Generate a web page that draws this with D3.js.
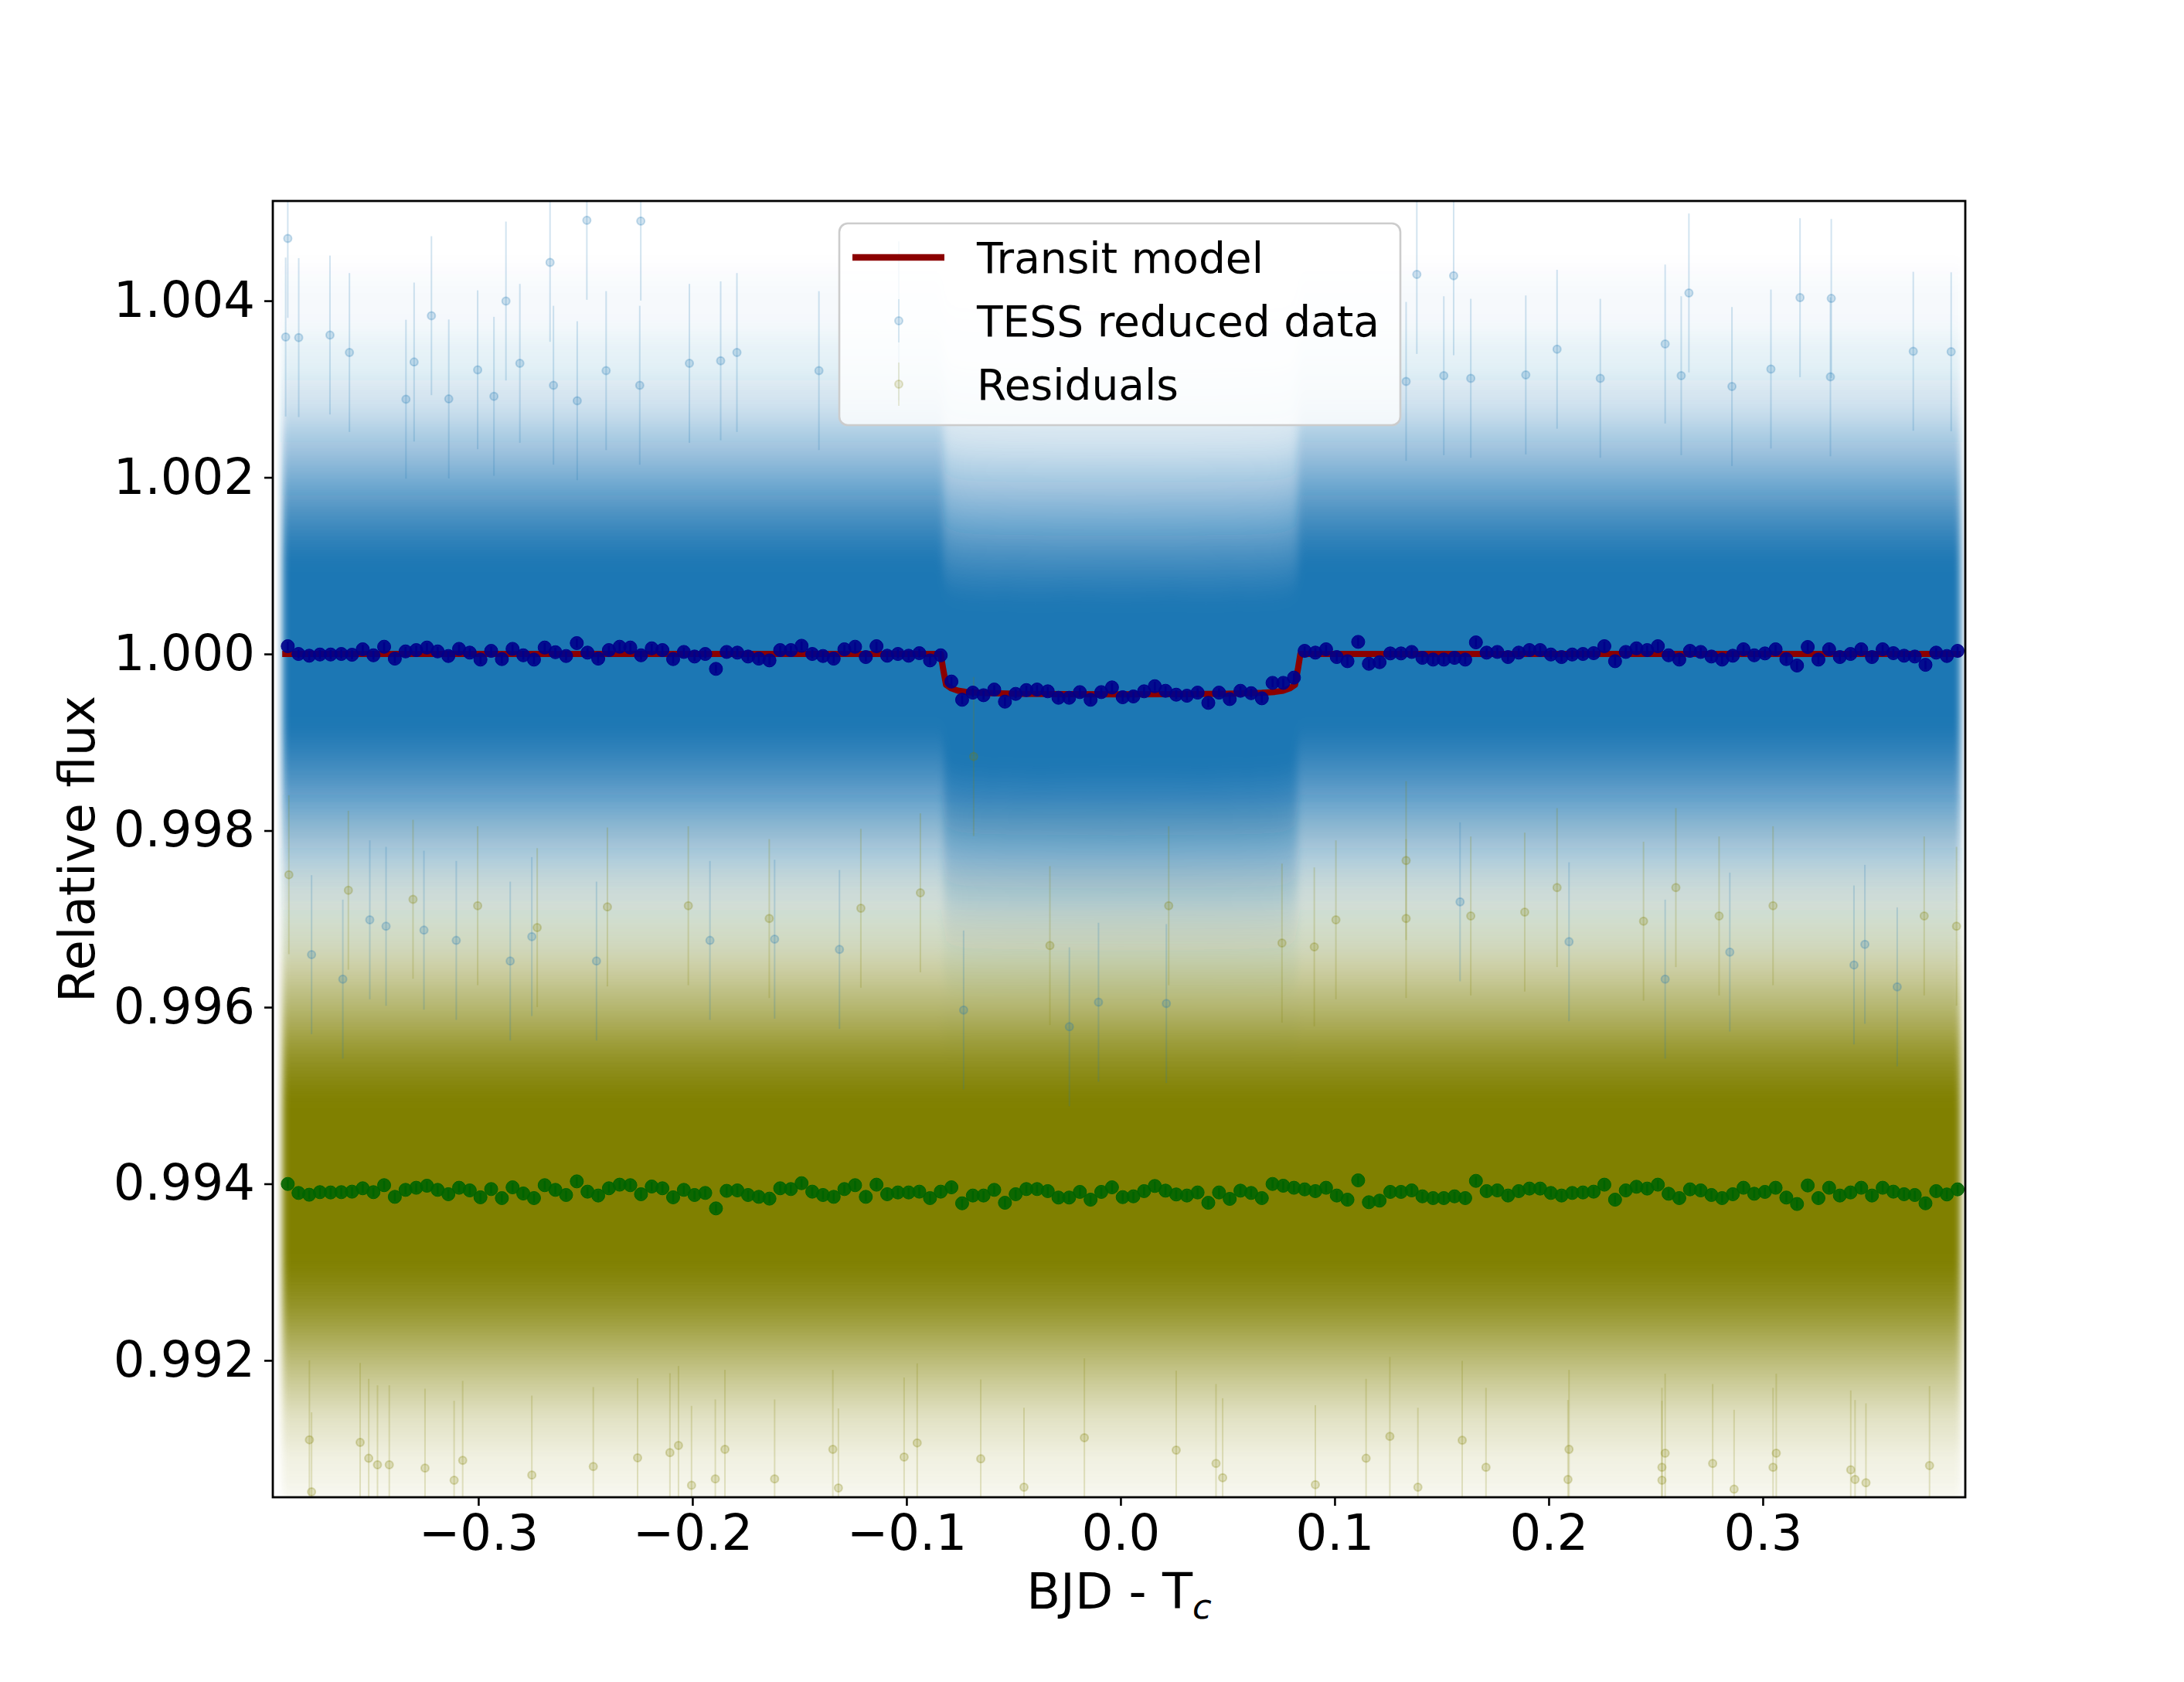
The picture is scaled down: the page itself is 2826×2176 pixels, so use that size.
<!DOCTYPE html>
<html>
<head>
<meta charset="utf-8">
<script src="https://cdn.jsdelivr.net/npm/d3@7"></script>
<style>
  body { margin: 0; background: #fff; }
  text { font-family: "DejaVu Sans", sans-serif; }
</style>
</head>
<body>
<div id="chart"></div>
<script>
// binned light curve (0.005 d bins)
const binStart = -0.389;
const binStep = 0.005;
const binnedFlux = [
  1.000088, 1.000000, 0.999980, 0.999994, 0.999994, 1.000000, 0.999991, 1.000053, 0.999985, 1.000082,
  0.999947, 1.000029, 1.000044, 1.000073, 1.000029, 0.999977, 1.000058, 1.000015, 0.999936, 1.000035,
  0.999942, 1.000058, 0.999985, 0.999936, 1.000073, 1.000020, 0.999977, 1.000123, 1.000015, 0.999947,
  1.000044, 1.000082, 1.000073, 0.999985, 1.000064, 1.000044, 0.999942, 1.000023, 0.999971, 1.000000,
  0.999831, 1.000023, 1.000015, 0.999971, 0.999947, 0.999927, 1.000044, 1.000044, 1.000093, 1.000000,
  0.999977, 0.999947, 1.000053,
  1.000082, 0.999965, 1.000088, 0.999980, 1.000000, 0.999980, 1.000009, 0.999927, 0.999985, 0.999688,
  0.999481, 0.999562, 0.999533, 0.999597, 0.999460, 0.999548, 0.999591, 0.999597, 0.999577, 0.999504,
  0.999504, 0.999568, 0.999481, 0.999568, 0.999621, 0.999510, 0.999519, 0.999577, 0.999635, 0.999583,
  0.999539, 0.999527, 0.999562, 0.999446, 0.999562, 0.999489, 0.999583, 0.999556, 0.999498, 0.999673,
  0.999673, 0.999732, 1.000035, 1.000015, 1.000053, 0.999965, 0.999918, 1.000137, 0.999889, 0.999907,
  1.000006, 1.000006, 1.000023, 0.999956,
  0.999936, 0.999936, 0.999956, 0.999936, 1.000131, 1.000015, 1.000023, 0.999965, 1.000015, 1.000044,
  1.000044, 0.999994, 0.999965, 0.999994, 1.000000, 1.000009, 1.000088, 0.999918, 1.000023, 1.000064,
  1.000044, 1.000088, 0.999985, 0.999936, 1.000035, 1.000023, 0.999971, 0.999936, 0.999980, 1.000053,
  0.999985, 1.000006, 1.000053, 0.999942, 0.999869, 1.000079, 0.999936, 1.000053, 0.999965, 1.000000,
  1.000053, 0.999965, 1.000053, 1.000009, 0.999980, 0.999971, 0.999877, 1.000015, 0.999977, 1.000035
];
const binnedResid = [
  0.993998, 0.993896, 0.993876, 0.993905, 0.993902, 0.993905, 0.993911, 0.993949, 0.993905, 0.993984,
  0.993852, 0.993931, 0.993955, 0.993978, 0.993931, 0.993882, 0.993955, 0.993925, 0.993847, 0.993940,
  0.993838, 0.993960, 0.993890, 0.993838, 0.993984, 0.993931, 0.993873, 0.994027, 0.993911, 0.993867,
  0.993949, 0.993990, 0.993984, 0.993882, 0.993969, 0.993949, 0.993847, 0.993931, 0.993873, 0.993896,
  0.993721, 0.993920, 0.993925, 0.993873, 0.993852, 0.993832, 0.993949, 0.993940, 0.994007, 0.993911,
  0.993873, 0.993852, 0.993940, 0.993984, 0.993852, 0.993990, 0.993882, 0.993902, 0.993902, 0.993911,
  0.993838, 0.993911, 0.993960, 0.993779, 0.993867, 0.993867, 0.993931, 0.993785, 0.993882, 0.993940,
  0.993940,
  0.993917, 0.993844, 0.993844, 0.993908, 0.993820, 0.993908, 0.993960, 0.993849, 0.993858, 0.993917,
  0.993975, 0.993922, 0.993879, 0.993867, 0.993902, 0.993785, 0.993902, 0.993829, 0.993922, 0.993896,
  0.993838, 0.993998, 0.993978, 0.993955, 0.993937, 0.993917, 0.993955, 0.993867, 0.993820, 0.994039,
  0.993791, 0.993809, 0.993908, 0.993908, 0.993925, 0.993858,
  0.993838, 0.993838, 0.993858, 0.993838, 0.994033, 0.993917, 0.993925, 0.993867, 0.993917, 0.993946,
  0.993946, 0.993896, 0.993867, 0.993896, 0.993902, 0.993911, 0.993990, 0.993820, 0.993925, 0.993966,
  0.993946, 0.993990, 0.993887, 0.993838, 0.993937, 0.993925, 0.993873, 0.993838, 0.993882, 0.993955,
  0.993887, 0.993908, 0.993955, 0.993844, 0.993771, 0.993981, 0.993838, 0.993955, 0.993867, 0.993902,
  0.993955, 0.993867, 0.993955, 0.993911, 0.993882, 0.993873, 0.993779, 0.993917, 0.993879, 0.993937
];
const binErr = 0.00005;

// transit model
const modelTime = [-0.3916, -0.0840, -0.0828, -0.0815, -0.0790, -0.0760, -0.0720, -0.0660, -0.0500, -0.0250, 0,
  0.0250, 0.0500, 0.0660, 0.0720, 0.0760, 0.0790, 0.0815, 0.0828, 0.0840, 0.3925];
const modelFlux = [1, 1, 0.99982, 0.99965, 0.99961, 0.999585, 0.99957, 0.99956, 0.99955, 0.999545, 0.999543,
  0.999545, 0.99955, 0.99956, 0.99957, 0.999585, 0.99961, 0.99965, 0.99982, 1, 1];

// spread of the unbinned points about the model / residual level
const residLevel = 0.99393;
const spreadUp = [0.0012, 0.0015, 0.0018, 0.0021, 0.0024, 0.0027, 0.0031, 0.0036, 0.0043];
const spreadDown = [0.0010, 0.0013, 0.0016, 0.0019, 0.0022, 0.0025, 0.0029, 0.0034, 0.0041];
const spreadAlpha = [1, 0.9, 0.78, 0.62, 0.47, 0.33, 0.2, 0.1, 0.035];

// individual points that stand out of the cloud
const tessSparse = [
  [-0.3890, 1.004706], [-0.2665, 1.004435], [-0.2493, 1.004911], [-0.2241, 1.004902], [-0.2871, 1.003997],
  [-0.3219, 1.003831], [-0.3900, 1.003589], [-0.3839, 1.003583], [-0.3693, 1.003612], [-0.3602, 1.003414],
  [-0.3300, 1.003306], [-0.3003, 1.003218], [-0.2806, 1.003291], [-0.2403, 1.003209], [-0.2014, 1.003291],
  [-0.1868, 1.003320], [-0.1792, 1.003414], [-0.1409, 1.003209], [-0.1036, 1.003773], [0.1384, 1.004298],
  [0.1556, 1.004283], [0.2655, 1.004088], [0.3174, 1.004035], [0.3320, 1.004026], [0.2544, 1.003510],
  [0.2039, 1.003451], [0.3703, 1.003428], [0.3880, 1.003422], [0.2619, 1.003151], [0.3038, 1.003227],
  [0.3316, 1.003139], [0.1893, 1.003160], [0.1510, 1.003151], [0.1636, 1.003122], [0.1334, 1.003087],
  [0.2856, 1.003029], [0.2241, 1.003122], [-0.2649, 1.003043], [-0.2246, 1.003043], [-0.3138, 1.002888],
  [-0.3338, 1.002885], [-0.2927, 1.002918], [-0.2538, 1.002868],
  [-0.3633, 0.996318], [-0.3779, 0.996595], [-0.2851, 0.996522], [-0.2448, 0.996522], [-0.1918, 0.996756],
  [-0.1616, 0.996770], [-0.1313, 0.996654], [-0.0733, 0.995968], [-0.0103, 0.996056], [0.0214, 0.996041],
  [-0.0239, 0.995778], [0.1586, 0.997193], [0.2095, 0.996741], [0.2544, 0.996318], [0.3426, 0.996478],
  [0.3628, 0.996230], [0.3477, 0.996712], [0.2846, 0.996624], [-0.3254, 0.996872], [-0.3507, 0.996989],
  [-0.3431, 0.996916], [-0.2750, 0.996799], [-0.3103, 0.996756]
];
const residSparse = [
  [-0.3779, 0.990512], [-0.3113, 0.990643], [-0.2750, 0.990701], [-0.2004, 0.990585], [-0.1893, 0.990658],
  [-0.1616, 0.990658], [-0.1318, 0.990556], [-0.0451, 0.990564], [0.0477, 0.990672], [0.0910, 0.990593],
  [0.1389, 0.990564], [0.2090, 0.990652], [0.2866, 0.990541], [0.3431, 0.990652], [0.3482, 0.990614],
  [0.2529, 0.990643], [0.2529, 0.990789], [0.1707, 0.990789], [0.3411, 0.990760], [0.3779, 0.990809],
  [-0.3512, 0.990891], [-0.3471, 0.990818], [-0.3416, 0.990818], [-0.3249, 0.990780], [-0.3073, 0.990868],
  [-0.2463, 0.990798], [-0.2256, 0.990897], [-0.2105, 0.990955], [-0.2065, 0.991037], [-0.1848, 0.990993],
  [-0.1344, 0.990993], [-0.1011, 0.990906], [-0.0653, 0.990885], [0.0260, 0.990984], [0.0446, 0.990833],
  [0.1147, 0.990891], [0.1596, 0.991095], [0.2095, 0.990993], [0.2544, 0.990949], [0.2766, 0.990833],
  [0.3063, 0.990949], [0.3048, 0.990789], [0.1258, 0.991139], [-0.0169, 0.991124], [-0.0950, 0.991066],
  [-0.3789, 0.991101], [-0.3552, 0.991072],
  [-0.3885, 0.997500], [-0.3607, 0.997324], [-0.3305, 0.997222], [-0.3003, 0.997149], [-0.2725, 0.996901],
  [-0.2397, 0.997135], [-0.2019, 0.997149], [-0.1641, 0.997004], [-0.1213, 0.997120], [-0.0935, 0.997295],
  [-0.0330, 0.996697], [0.0225, 0.997149], [0.0754, 0.996726], [0.0905, 0.996683], [0.1006, 0.996989],
  [0.1334, 0.997004], [0.1636, 0.997033], [0.1888, 0.997077], [0.2039, 0.997354], [0.2443, 0.996974],
  [0.2796, 0.997033], [0.3048, 0.997149], [0.3754, 0.997033], [0.3905, 0.996916], [0.2594, 0.997354],
  [0.1334, 0.997660], [-0.0686, 0.998839]
];
const pointErr = 0.0009;

const xTicks = [-0.3, -0.2, -0.1, 0.0, 0.1, 0.2, 0.3];
const yTicks = [0.992, 0.994, 0.996, 0.998, 1.000, 1.002, 1.004];
const legendLabels = ["Transit model", "TESS reduced data", "Residuals"];

const tessColor = "#1f77b4", residColor = "#808000";

let W = 2826, H = 2176;
let margin = { top: 260, right: 283, bottom: 239, left: 353 },
  width = W - margin.left - margin.right,
  height = H - margin.top - margin.bottom;

let root = d3.select("#chart").append("svg")
  .attr("width", W)
  .attr("height", H)
  .style("background", "#fff");

let defs = root.append("defs");
defs.append("clipPath").attr("id", "plotclip")
  .append("rect").attr("width", width).attr("height", height);
defs.append("filter").attr("id", "vblur")
  .attr("filterUnits", "userSpaceOnUse")
  .attr("x", -20).attr("y", -400).attr("width", width + 40).attr("height", height + 800)
  .append("feGaussianBlur").attr("stdDeviation", "5 16");

let svg = root.append("g")
  .attr("transform", "translate(" + margin.left + "," + margin.top + ")");

let x = d3.scaleLinear().domain([-0.396, 0.3946]).range([0, width]);
let y = d3.scaleLinear().domain([0.99045, 1.00513]).range([height, 0]);

let plot = svg.append("g").attr("clip-path", "url(#plotclip)");

// cloud of unbinned points drawn as nested spread bands
function drawCloud(centre, color) {
  let g = plot.append("g").attr("filter", "url(#vblur)");
  spreadUp.forEach(function (up, k) {
    let down = spreadDown[k];
    if (k === 0) {
      g.append("path")
        .datum(centre)
        .attr("d", d3.area().x(d => x(d.t)).y0(d => y(d.f - down)).y1(d => y(d.f + up)))
        .attr("fill", color)
        .attr("fill-opacity", spreadAlpha[k]);
      return;
    }
    let upIn = spreadUp[k - 1], downIn = spreadDown[k - 1];
    g.append("path")
      .datum(centre)
      .attr("d", d3.area().x(d => x(d.t)).y0(d => y(d.f + upIn)).y1(d => y(d.f + up)))
      .attr("fill", color)
      .attr("fill-opacity", spreadAlpha[k]);
    g.append("path")
      .datum(centre)
      .attr("d", d3.area().x(d => x(d.t)).y0(d => y(d.f - downIn)).y1(d => y(d.f - down)))
      .attr("fill", color)
      .attr("fill-opacity", spreadAlpha[k]);
  });
}

let modelData = modelTime.map((t, i) => ({ t: t, f: modelFlux[i] }));
let residCentre = [modelTime[0], modelTime[modelTime.length - 1]].map(t => ({ t: t, f: residLevel }));

drawCloud(modelData, tessColor);
drawCloud(residCentre, residColor);

function drawSparse(points, color) {
  let g = plot.append("g");
  g.selectAll("line")
    .data(points)
    .enter().append("line")
    .attr("x1", d => x(d[0])).attr("x2", d => x(d[0]))
    .attr("y1", d => y(d[1] - pointErr)).attr("y2", d => y(d[1] + pointErr))
    .attr("stroke", color)
    .attr("stroke-opacity", 0.2)
    .attr("stroke-width", 2);
  g.selectAll("circle")
    .data(points)
    .enter().append("circle")
    .attr("cx", d => x(d[0]))
    .attr("cy", d => y(d[1]))
    .attr("r", 5)
    .attr("fill", color)
    .attr("fill-opacity", 0.2)
    .attr("stroke", color)
    .attr("stroke-opacity", 0.25)
    .attr("stroke-width", 2);
}
drawSparse(tessSparse, tessColor);
drawSparse(residSparse, residColor);

// transit model
plot.append("path")
  .datum(modelData)
  .attr("d", d3.line().x(d => x(d.t)).y(d => y(d.f)))
  .attr("fill", "none")
  .attr("stroke", "#8b0000")
  .attr("stroke-width", 8)
  .attr("stroke-linejoin", "round");

// binned points
function drawBinned(values, color) {
  let pts = values.map((v, i) => ({ t: binStart + i * binStep, f: v }));
  let g = plot.append("g");
  g.selectAll("circle")
    .data(pts)
    .enter().append("circle")
    .attr("cx", d => x(d.t))
    .attr("cy", d => y(d.f))
    .attr("r", 8.5)
    .attr("fill", color)
    .attr("fill-opacity", 0.9)
    .attr("stroke", color)
    .attr("stroke-width", 1);
  g.selectAll("line")
    .data(pts)
    .enter().append("line")
    .attr("x1", d => x(d.t)).attr("x2", d => x(d.t))
    .attr("y1", d => y(d.f - binErr)).attr("y2", d => y(d.f + binErr))
    .attr("stroke", color)
    .attr("stroke-width", 2.5);
}
drawBinned(binnedFlux, "#00008b");
drawBinned(binnedResid, "#006400");

// axes
let xAxis = svg.append("g")
  .attr("transform", "translate(0," + height + ")")
  .call(d3.axisBottom(x).tickValues(xTicks).tickFormat(d3.format(".1f")).tickSize(11).tickPadding(12));
let yAxis = svg.append("g")
  .call(d3.axisLeft(y).tickValues(yTicks).tickFormat(d3.format(".3f")).tickSize(11).tickPadding(12));

[xAxis, yAxis].forEach(function (a) {
  a.select(".domain").remove();
  a.selectAll(".tick line").attr("stroke", "#000").attr("stroke-width", 2.6);
  a.selectAll(".tick text")
    .attr("fill", "#000")
    .style("font-size", "64px")
    .style("font-family", "DejaVu Sans");
});

svg.append("rect")
  .attr("width", width)
  .attr("height", height)
  .attr("fill", "none")
  .attr("stroke", "#000")
  .attr("stroke-width", 2.8);

// axis labels
let xl = svg.append("text")
  .attr("x", width / 2)
  .attr("y", 1821)
  .attr("text-anchor", "middle")
  .style("font-size", "64px");
xl.append("tspan").text("BJD - T");
xl.append("tspan")
  .attr("dy", 13)
  .style("font-size", "45px")
  .style("font-style", "italic")
  .text("c");

svg.append("text")
  .attr("transform", "translate(" + (122 - margin.left) + "," + height / 2 + ") rotate(-90)")
  .attr("text-anchor", "middle")
  .style("font-size", "64px")
  .text("Relative flux");

// legend
let legend = root.append("g").attr("transform", "translate(1086,289)");
legend.append("rect")
  .attr("width", 726)
  .attr("height", 261)
  .attr("rx", 11)
  .attr("fill", "#fff")
  .attr("fill-opacity", 0.8)
  .attr("stroke", "#cccccc")
  .attr("stroke-width", 2.6);

let rowY = [44, 126, 208];
legend.append("line")
  .attr("x1", 17).attr("x2", 136)
  .attr("y1", rowY[0]).attr("y2", rowY[0])
  .attr("stroke", "#8b0000")
  .attr("stroke-width", 8.5);

[[tessColor, rowY[1]], [residColor, rowY[2]]].forEach(function (h) {
  legend.append("line")
    .attr("x1", 77).attr("x2", 77)
    .attr("y1", h[1] - 28).attr("y2", h[1] + 28)
    .attr("stroke", h[0])
    .attr("stroke-opacity", 0.15)
    .attr("stroke-width", 2);
  legend.append("circle")
    .attr("cx", 77).attr("cy", h[1])
    .attr("r", 5)
    .attr("fill", h[0])
    .attr("fill-opacity", 0.15)
    .attr("stroke", h[0])
    .attr("stroke-opacity", 0.2)
    .attr("stroke-width", 2);
});

legend.selectAll(".label")
  .data(legendLabels)
  .enter().append("text")
  .attr("class", "label")
  .attr("x", 178)
  .attr("y", (d, i) => rowY[i] + 20)
  .style("font-size", "55px")
  .text(d => d);
</script>
</body>
</html>
